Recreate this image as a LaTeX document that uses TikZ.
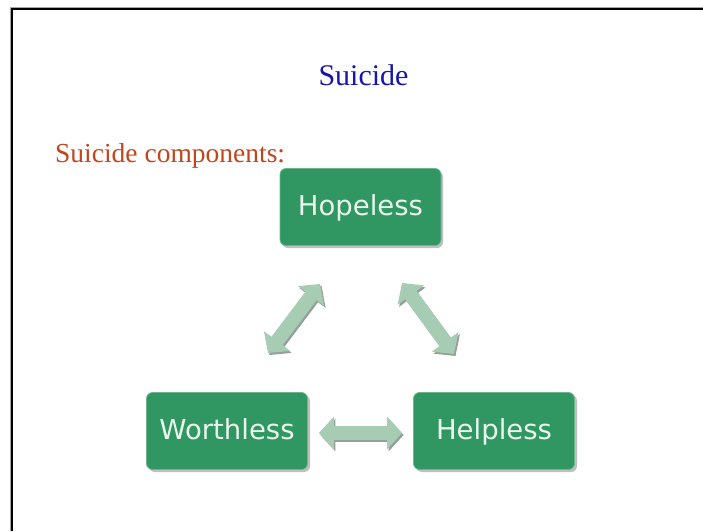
\documentclass[tikz,border=0pt]{standalone}
\usepackage{fontspec}
\setmainfont{Liberation Serif}
\newfontfamily\boxfont{DejaVu Sans}
\usetikzlibrary{arrows.meta,calc}
\definecolor{boxgreen}{RGB}{48,151,99}
\definecolor{boxedge}{RGB}{110,180,140}
\definecolor{boxtext}{RGB}{232,246,236}
\definecolor{arrowgreen}{RGB}{166,204,180}
\definecolor{arrowshadow}{RGB}{150,160,155}
\definecolor{titleblue}{RGB}{22,22,170}
\definecolor{subred}{RGB}{196,68,30}
\tikzset{
  compbox/.style={rectangle, rounded corners=6pt, fill=boxgreen, draw=boxedge, line width=0.8pt,
    minimum width=161pt, minimum height=77pt, inner sep=0pt, text=boxtext,
    text height=18pt, text depth=1pt,
    font=\boxfont\fontsize{27.5}{30}\selectfont},
  boxshadow/.style={rectangle, rounded corners=6pt, fill=black!25,
    minimum width=161pt, minimum height=77pt, inner sep=0pt},
  bigarrow/.style={line width=14pt, draw=arrowgreen,
    {Triangle[length=15pt 0 0, width=32pt 0 0]}-{Triangle[length=15pt 0 0, width=32pt 0 0]}},
  arrowshade/.style={line width=14pt, draw=arrowshadow,
    {Triangle[length=15pt 0 0, width=32pt 0 0]}-{Triangle[length=15pt 0 0, width=32pt 0 0]}},
}
\begin{document}
\begin{tikzpicture}[x=1pt,y=-1pt]
\useasboundingbox (0,0) rectangle (703,531);
\fill[white] (0,0) rectangle (703,531);
% frame (left and top edges visible)
\draw[black!35, line width=3.6pt] (11.5,531) -- (11.5,8.5) -- (703,8.5);
\draw[black, line width=2pt] (11.5,531) -- (11.5,8.5) -- (703,8.5);

% texts
\node[anchor=base, text=titleblue, font=\fontsize{30}{34}\selectfont, inner sep=0pt] (title) at (363.5,85) {Suicide};
\node[anchor=base west, text=subred, font=\fontsize{27.5}{32}\selectfont, inner sep=0pt] (sub) at (55,162) {Suicide components:};

% shadows of boxes
\node[boxshadow] at (362.5,209.5) {};
\node[boxshadow] at (229.5,433.5) {};
\node[boxshadow] at (496.5,433.5) {};

% boxes
\node[compbox] (hope) at (360.5,207) {Hopeless};
\node[compbox] (worth) at (227,431) {Worthless};
\node[compbox] (help) at (494,431) {Helpless};

% arrow end points
\coordinate (wh1) at ($(worth.east)+(11,2)$);
\coordinate (wh2) at ($(help.west)+(-11,2)$);
\coordinate (hw1) at (268,353);
\coordinate (hw2) at (320,284);
\coordinate (hh1) at (402,283);
\coordinate (hh2) at (454,354);

% arrow shadows
\begin{scope}[transform canvas={shift={(1.5pt,-2pt)}}]
\draw[arrowshade] (wh1) -- (wh2);
\draw[arrowshade] (hw1) -- (hw2);
\draw[arrowshade] (hh1) -- (hh2);
\end{scope}
% arrows
\draw[bigarrow] (wh1) -- (wh2);
\draw[bigarrow] (hw1) -- (hw2);
\draw[bigarrow] (hh1) -- (hh2);
\end{tikzpicture}
\end{document}
